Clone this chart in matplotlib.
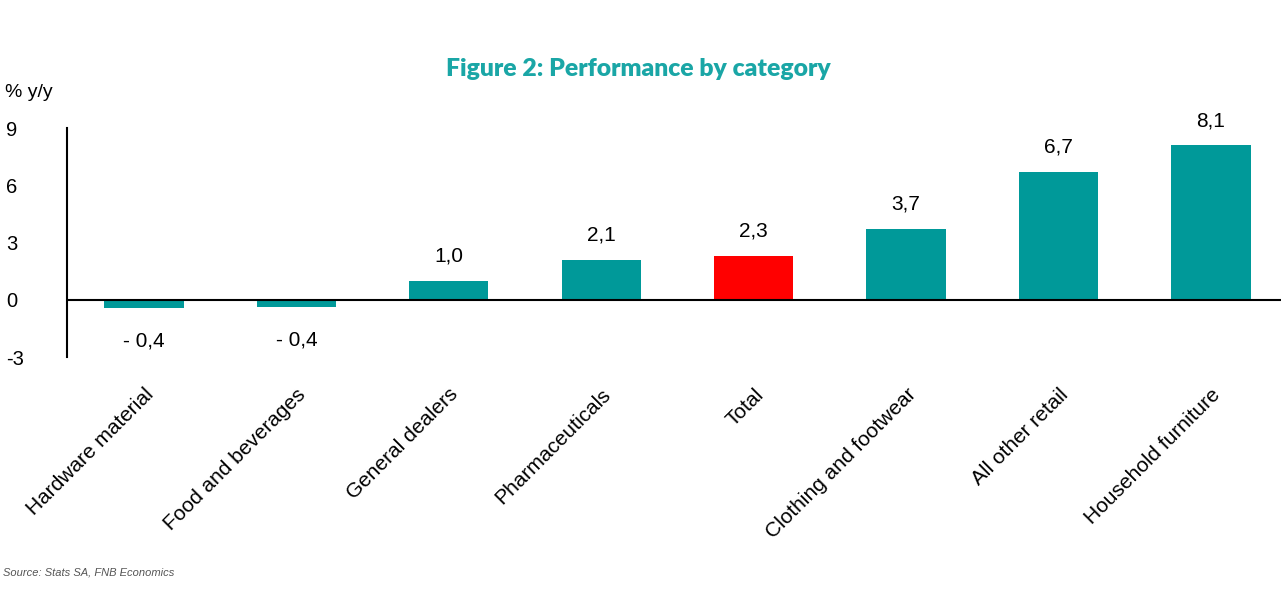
import matplotlib
matplotlib.use("Agg")
import matplotlib.pyplot as plt

categories = ["Hardware material", "Food and beverages", "General dealers", "Pharmaceuticals",
              "Total", "Clothing and footwear", "All other retail", "Household furniture"]
values = [-0.44, -0.38, 1.0, 2.1, 2.3, 3.7, 6.7, 8.1]
highlight = "Total"
y_ticks = [-3, 0, 3, 6, 9]

teal = "#009999"
red = "#ff0000"

plt.rcParams['font.family'] = ['Liberation Sans', 'DejaVu Sans']

fig = plt.figure(figsize=(12.81, 5.96), dpi=100)
ax = fig.add_axes([0.0523, 0.401, 0.9477, 0.384])

x = list(range(len(categories)))
colors = [red if c == highlight else teal for c in categories]
ax.bar(x, values, width=0.52, color=colors, zorder=2)

for xi, v in zip(x, values):
    s = f"{abs(v):.1f}".replace(".", ",")
    if v < 0:
        ax.annotate("- " + s, (xi, v), xytext=(0, -17), textcoords="offset points",
                    ha="center", va="top", fontsize=15)
    else:
        ax.annotate(s, (xi, v), xytext=(0, 11), textcoords="offset points",
                    ha="center", va="bottom", fontsize=15)

ax.set_xlim(-0.505, len(categories) - 0.54)
ax.set_ylim(-3, 9)
ax.set_yticks(y_ticks)
ax.set_yticklabels([str(t) for t in y_ticks], ha="left", fontsize=14.5)
ax.tick_params(axis="y", length=0, pad=44)
ax.set_xticks(x)
ax.set_xticklabels(categories, rotation=45, ha="right", va="top", rotation_mode="anchor", fontsize=15)
ax.tick_params(axis="x", length=0, pad=20)

for side in ["top", "right", "bottom"]:
    ax.spines[side].set_visible(False)
ax.spines["left"].set_linewidth(1.5)
ax.axhline(0, color="black", linewidth=1.5, zorder=3)

fig.text(0.004, 0.845, "% y/y", fontsize=14, ha="left", va="center")
fig.text(0.498, 0.885, "Figure 2: Performance by category", fontsize=17.8, fontweight="heavy",
         color="#1aa6a6", ha="center", va="center", family=["Lato", "DejaVu Sans"])
fig.text(0.002, 0.039, "Source: Stats SA, FNB Economics", fontsize=8, style="italic",
         color="#555555", ha="left", va="center")

fig.savefig("out.png", dpi=100)
